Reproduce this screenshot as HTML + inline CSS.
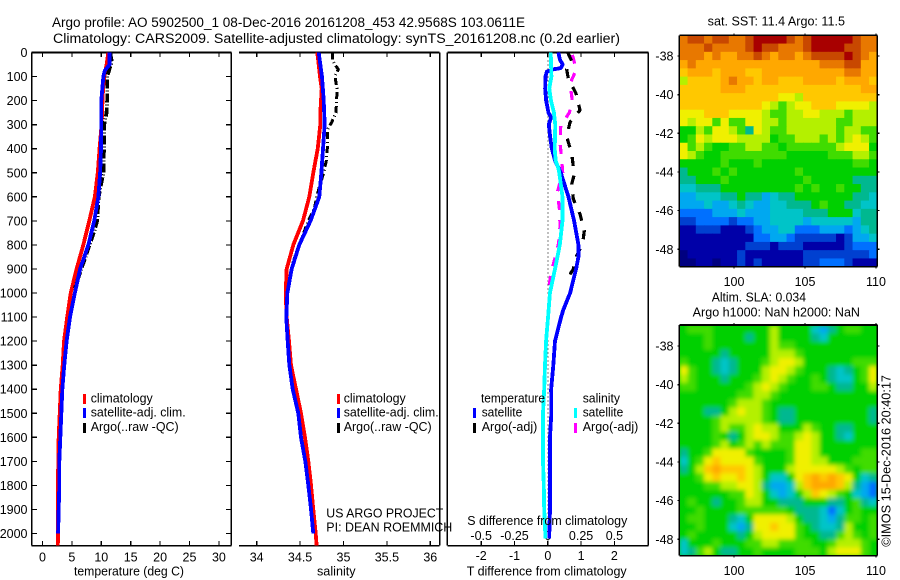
<!DOCTYPE html>
<html lang="en">
<head>
<meta charset="utf-8">
<title>Argo profile</title>
<style>
html,body{margin:0;padding:0;background:#fff;}
svg{display:block;}
text{font-family:"Liberation Sans",sans-serif;font-size:12.5px;fill:#000;}
.title{font-size:13.5px;}
</style>
</head>
<body>
<svg id="figure" xmlns="http://www.w3.org/2000/svg" width="900" height="580" viewBox="0 0 900 580">
  <defs>
    <clipPath id="clip-sst"><rect x="679.3" y="35.3" width="198" height="231.4"/></clipPath>
    <clipPath id="clip-sla"><rect x="679.3" y="325" width="198" height="230.7"/></clipPath>
    <filter id="sla-smooth" x="-5%" y="-5%" width="110%" height="110%"><feGaussianBlur stdDeviation="2.2"/></filter>
  </defs>

  <text class="title" x="52" y="27" textLength="473" lengthAdjust="spacingAndGlyphs">Argo profile: AO 5902500_1 08-Dec-2016 20161208_453 42.9568S 103.0611E</text>
  <text class="title" x="53" y="43" textLength="567" lengthAdjust="spacingAndGlyphs">Climatology: CARS2009. Satellite-adjusted climatology: synTS_20161208.nc (0.2d earlier)</text>

  <g id="panel-temp"></g>
  <g id="panel-sal"></g>
  <g id="panel-diff"></g>
  <g id="map-sst"></g>
  <g id="map-sla"></g>

  <text x="74" y="575.5" textLength="110" lengthAdjust="spacingAndGlyphs">temperature (deg C)</text>
  <text x="317" y="575.5" textLength="38.6" lengthAdjust="spacingAndGlyphs">salinity</text>
  <text x="466.7" y="575.5" textLength="160" lengthAdjust="spacingAndGlyphs">T difference from climatology</text>
  <text x="467.3" y="525" textLength="160" lengthAdjust="spacingAndGlyphs">S difference from climatology</text>

  <g>
    <rect x="83" y="394" width="3" height="10" fill="#ff0000"/>
    <text x="90.7" y="402.7" textLength="62" lengthAdjust="spacingAndGlyphs">climatology</text>
    <rect x="83" y="408" width="3" height="10" fill="#0000ff"/>
    <text x="90.7" y="416.7" textLength="95" lengthAdjust="spacingAndGlyphs">satellite-adj. clim.</text>
    <rect x="83" y="423" width="3" height="10" fill="#000"/>
    <text x="90.7" y="431" textLength="88" lengthAdjust="spacingAndGlyphs">Argo(..raw -QC)</text>
  </g>
  <g>
    <rect x="337" y="394" width="3" height="10" fill="#ff0000"/>
    <text x="343.7" y="402.7" textLength="62" lengthAdjust="spacingAndGlyphs">climatology</text>
    <rect x="337" y="408" width="3" height="10" fill="#0000ff"/>
    <text x="343.7" y="416.7" textLength="95" lengthAdjust="spacingAndGlyphs">satellite-adj. clim.</text>
    <rect x="337" y="423" width="3" height="10" fill="#000"/>
    <text x="343.7" y="431" textLength="88" lengthAdjust="spacingAndGlyphs">Argo(..raw -QC)</text>
  </g>
  <g>
    <text x="481" y="402.7" textLength="64" lengthAdjust="spacingAndGlyphs">temperature</text>
    <rect x="473" y="408" width="3" height="10" fill="#0000ff"/>
    <text x="481.7" y="416.7" textLength="40.6" lengthAdjust="spacingAndGlyphs">satellite</text>
    <rect x="473" y="423" width="3" height="10" fill="#000"/>
    <text x="481.7" y="431" textLength="55.6" lengthAdjust="spacingAndGlyphs">Argo(-adj)</text>
    <text x="582.7" y="402.7" textLength="37.3" lengthAdjust="spacingAndGlyphs">salinity</text>
    <rect x="574" y="408" width="3" height="10" fill="#00ffff"/>
    <text x="582.7" y="416.7" textLength="40.6" lengthAdjust="spacingAndGlyphs">satellite</text>
    <rect x="574" y="423" width="3" height="10" fill="#ff00ff"/>
    <text x="582.7" y="431" textLength="55.6" lengthAdjust="spacingAndGlyphs">Argo(-adj)</text>
  </g>

  <text x="326.3" y="517.7" textLength="117" lengthAdjust="spacingAndGlyphs">US ARGO PROJECT</text>
  <text x="326.3" y="531.7" textLength="126" lengthAdjust="spacingAndGlyphs">PI: DEAN ROEMMICH</text>

  <text x="707.7" y="25.3" textLength="137.3" lengthAdjust="spacingAndGlyphs">sat. SST: 11.4 Argo: 11.5</text>
  <text x="711.7" y="301.7" textLength="94.3" lengthAdjust="spacingAndGlyphs">Altim. SLA: 0.034</text>
  <text x="692.7" y="316.3" textLength="167.3" lengthAdjust="spacingAndGlyphs">Argo h1000: NaN h2000: NaN</text>
  <text transform="translate(890.7,546.7) rotate(-90)" textLength="171.7" lengthAdjust="spacingAndGlyphs">©IMOS 15-Dec-2016 20:40:17</text>
</svg>

<script>
// ---------- axis tick data ----------
const depthTicks = [0,100,200,300,400,500,600,700,800,900,1000,1100,1200,1300,1400,1500,1600,1700,1800,1900,2000];
const tempTicks = [0,5,10,15,20,25,30];
const salTicks = [34,34.5,35,35.5,36];
const diffTTicks = [-2,-1,0,1,2];
const diffSTicks = [-0.5,-0.25,0,0.25,0.5];
const lonTicks = [100,105,110];
const latTicks = [-38,-40,-42,-44,-46,-48];

// ---------- temperature profiles ----------
const climTempDepth = [0,50,100,150,200,300,400,500,600,700,800,900,1000,1100,1200,1300,1400,1500,1600,1700,1800,1900,2000,2050];
const climTemp = [11.2,10.9,10.5,10.3,10.2,10.05,9.7,9.4,8.9,7.96,6.94,5.8,4.8,4.2,3.66,3.43,3.1,2.93,2.75,2.7,2.58,2.6,2.65,2.6];
const satTempDepth = [0,50,75,100,200,300,400,500,600,700,800,900,1000,1100,1200,1300,1400,1500,1600,1700,1800,1900,2000];
const satTemp = [11.4,11.4,10.6,10.35,10.0,10.0,9.95,9.8,9.5,8.8,7.8,6.4,5.5,4.68,4.1,3.7,3.37,3.2,3.03,2.86,2.86,2.75,2.65];
const argoTempDepth = [0,40,60,100,200,250,300,400,500,550,600,700,750,800,900,980];
const argoTemp = [11.5,11.8,11.5,11.0,11.0,10.9,10.5,10.45,10.35,9.95,9.55,9.3,8.7,8.0,6.6,5.5];

// ---------- salinity profiles ----------
const climSalDepth = [0,50,100,150,200,250,300,400,500,600,700,800,900,1000,1100,1200,1300,1400,1500,1600,1700,1800,1900,2000,2050];
const climSal = [34.698,34.714,34.729,34.749,34.741,34.733,34.733,34.703,34.652,34.606,34.533,34.422,34.345,34.334,34.345,34.372,34.395,34.453,34.51,34.556,34.595,34.626,34.652,34.68,34.69];
const satSalDepth = [0,100,200,300,400,500,600,700,800,900,1000,1100,1200,1300,1400,1500,1600,1700,1800,1900,2000];
const satSal = [34.714,34.752,34.772,34.783,34.764,34.745,34.721,34.62,34.49,34.403,34.353,34.341,34.357,34.376,34.415,34.479,34.51,34.56,34.595,34.626,34.652];
const argoSalDepth = [0,30,50,70,100,150,200,250,290,320,400,450,500,550,600,650,700,800,880];
const argoSal = [34.871,34.871,34.90,34.94,34.902,34.925,34.921,34.913,34.864,34.818,34.813,34.802,34.772,34.729,34.691,34.664,34.594,34.49,34.41];

// ---------- difference profiles ----------
const satDiffTDepth = [0,30,50,65,70,80,100,150,200,250,270,300,350,400,450,500,600,700,800,850,900,1000,1070,1100,1200,1300,1400,1500,1600,1700,1800,1900,2000,2020];
const satDiffT = [0.316,0.366,0.447,0.386,0.164,-0.03,-0.07,-0.08,-0.05,0.02,0.1,0.03,0.07,0.12,0.22,0.39,0.62,0.79,0.92,0.92,0.85,0.67,0.466,0.4,0.216,0.166,0.1,0.106,0.066,0.066,0.066,0.066,0.045,0.045];
const satDiffSDepth = [0,100,150,200,250,300,400,450,480,500,600,700,800,900,1000,1100,1200,1300,1400,1500,1600,1700,1800,1900,2000,2020];
const satDiffS = [0.022,0.027,0.011,0.024,0.046,0.056,0.052,0.059,0.079,0.086,0.11,0.11,0.09,0.054,0.016,0.002,-0.013,-0.021,-0.027,-0.036,-0.036,-0.036,-0.03,-0.027,-0.019,-0.019];
const argoDiffTDepth = [0,35,70,110,170,240,290,350,420,475,500,548,610,672,740,795,845,900,945];
const argoDiffT = [0.598,0.717,0.567,0.617,0.847,0.967,0.667,0.567,0.717,0.767,0.807,0.717,0.767,0.967,1.097,1.047,0.867,0.767,0.567];
const argoDiffSDepth = [10,70,130,200,250,305,375,445,500,580,650,720,790,845,905,970];
const argoDiffS = [0.184,0.214,0.167,0.184,0.162,0.097,0.092,0.104,0.112,0.072,0.087,0.092,0.082,0.059,0.029,0.009];

// ---------- map level colours ----------
const levelColors = ['#000080','#0000a8','#0040d0','#0070ff','#00a8f0','#00c4c8','#00b890','#00d000','#40dc00','#b4f000','#f0f000','#ffc800','#ffa800','#e87800','#c84800','#a80000'];

// ---------- SST map levels (rows north to south) ----------
const sstLevels = [
[13,14,14,13,14,14,13,13,14,15,15,15,15,14,13,14,15,15,15,15,15,14,13,13],
[13,13,13,14,13,13,13,13,14,15,14,14,13,13,13,14,15,15,15,15,14,14,13,13],
[13,13,13,12,13,12,12,13,13,14,13,12,13,13,12,13,14,14,14,14,15,14,13,12],
[12,13,12,12,12,12,12,12,12,12,12,12,12,12,12,12,12,13,13,13,14,14,12,12],
[11,12,12,12,11,12,12,12,11,11,12,12,12,12,12,12,12,12,12,12,13,13,12,12],
[9,11,11,11,11,12,13,12,12,11,12,12,11,11,11,12,12,12,12,11,12,12,12,11],
[11,11,11,11,11,12,12,12,11,11,11,11,11,11,11,11,11,11,11,11,11,11,12,12],
[11,11,11,11,11,11,11,11,11,11,11,11,10,10,9,11,11,11,11,11,11,11,11,11],
[11,11,11,11,11,11,11,11,11,11,10,9,8,9,10,10,11,11,11,10,10,10,10,9],
[10,10,10,11,11,11,10,10,10,10,9,8,8,9,9,10,10,9,9,9,8,9,9,9],
[10,9,10,10,8,10,8,8,10,10,9,9,8,9,9,9,9,9,9,8,8,9,9,9],
[7,7,9,8,10,10,9,8,6,10,9,8,8,9,9,9,9,9,9,8,9,9,8,8],
[7,8,10,9,10,10,10,9,9,9,9,7,8,8,9,9,9,8,9,8,9,10,9,8],
[10,8,9,8,7,7,8,8,9,9,8,8,7,8,8,8,8,8,8,9,10,10,10,7],
[10,9,8,7,7,8,8,8,8,8,8,8,8,7,7,7,7,7,8,8,8,9,9,8],
[7,7,7,7,7,8,7,7,7,8,7,7,7,7,7,7,7,7,7,7,7,8,8,7],
[6,7,7,7,8,7,8,7,7,7,7,7,7,7,8,7,7,7,7,7,7,7,7,7],
[6,6,7,7,7,8,7,7,7,7,7,7,7,7,7,8,7,7,7,7,7,6,6,6],
[5,5,6,6,6,7,7,7,7,7,7,7,7,7,8,7,8,7,7,8,7,7,6,6],
[4,4,5,5,5,6,6,7,6,6,4,5,6,6,7,7,7,7,7,7,7,6,6,5],
[4,4,4,5,4,4,5,6,5,4,4,5,5,6,6,6,7,8,7,7,6,6,5,5],
[3,3,3,3,4,4,4,5,4,4,4,5,5,5,5,6,6,6,7,7,7,5,6,6],
[2,2,3,3,3,3,2,3,3,4,4,5,5,5,5,4,5,5,5,5,5,4,6,6],
[1,1,2,2,2,1,1,1,2,3,4,4,5,5,3,3,3,4,4,4,3,4,5,6],
[1,1,1,1,1,1,1,1,1,3,3,4,4,3,2,2,2,2,2,1,2,4,4,5],
[1,1,1,1,1,1,1,1,2,2,2,1,2,2,2,1,1,1,1,1,2,3,3,3],
[0,1,1,1,1,1,1,2,1,1,1,1,1,1,1,2,2,2,2,2,2,2,2,3],
[0,0,1,1,0,1,1,2,1,2,1,1,1,1,1,2,2,3,3,3,2,1,1,1]
];

// ---------- SLA map levels (rows north to south) ----------
const slaLevels = [
[7,8,8,8,7,7,7,7,7,7,7,9,7,7,7,7,5,4,6,7,8,8,7,7],
[7,7,7,8,7,7,7,7,6,7,7,9,7,7,7,7,6,5,7,7,7,7,7,7],
[7,7,7,8,7,7,7,7,7,7,7,9,8,8,7,7,7,7,7,7,7,7,7,7],
[7,7,7,7,7,6,7,7,7,7,7,9,9,9,8,7,7,7,7,7,7,7,7,7],
[8,7,7,7,6,5,6,7,7,7,8,9,10,10,9,7,7,7,7,7,7,8,8,8],
[10,8,7,7,6,5,6,7,7,7,9,10,10,9,8,7,7,7,6,5,6,7,8,10],
[9,8,7,7,7,6,7,7,7,8,9,10,9,8,7,7,8,7,6,5,5,7,8,10],
[8,8,7,7,7,7,7,7,8,9,10,9,8,7,7,7,8,8,7,6,6,7,7,9],
[7,7,7,7,7,7,7,8,8,9,9,8,7,7,7,7,7,7,7,7,7,7,7,7],
[7,7,7,7,7,7,8,9,9,9,8,7,7,7,7,7,7,7,7,7,7,7,7,7],
[7,7,7,6,6,7,9,10,9,9,8,7,6,6,7,7,7,7,7,7,7,7,7,6],
[7,7,7,7,8,9,9,9,9,9,8,7,6,6,7,7,7,7,7,7,7,7,7,6],
[7,7,7,7,8,9,8,8,9,10,9,9,7,7,7,9,8,7,7,6,6,7,7,7],
[7,7,7,7,8,7,6,7,9,10,10,9,8,8,9,10,9,7,7,6,5,7,7,7],
[7,7,7,7,8,9,7,8,9,8,9,8,8,8,10,10,9,7,7,7,7,7,7,7],
[6,7,7,8,10,10,10,10,8,7,7,7,7,8,10,10,9,7,7,7,7,7,8,8],
[5,7,8,10,11,10,10,10,10,8,7,7,7,8,10,10,9,9,7,7,7,8,8,8],
[6,7,9,11,12,11,11,11,10,9,7,7,7,9,10,10,10,10,10,9,8,7,8,8],
[7,7,8,10,11,10,10,11,10,9,7,5,5,7,10,11,12,11,12,11,10,7,5,6],
[7,7,7,8,8,9,9,10,10,9,6,4,4,5,9,11,12,12,12,11,9,6,4,3],
[7,7,7,7,7,7,8,8,10,9,7,5,4,5,7,9,11,10,9,8,7,5,4,3],
[7,8,7,7,6,7,7,8,9,9,7,7,6,6,6,7,7,7,6,6,7,8,6,5],
[7,7,8,7,7,7,7,8,8,8,8,8,8,7,6,6,6,5,3,5,7,8,7,7],
[7,8,8,7,7,7,6,5,7,10,10,10,10,9,7,6,6,5,4,6,8,8,7,8],
[7,7,8,7,7,7,5,4,6,10,10,11,10,10,8,7,6,5,5,6,9,7,7,8],
[7,8,7,7,7,7,7,6,7,9,10,10,10,10,8,7,7,6,6,8,9,8,7,8],
[5,7,7,7,8,7,7,7,8,8,9,9,8,8,8,8,7,7,8,9,9,9,8,7],
[5,6,8,9,7,6,6,7,7,8,7,7,7,7,8,8,8,7,9,10,10,10,8,7]
];

// ---------- drawing ----------
const NS = 'http://www.w3.org/2000/svg';
const depthY = d => 52.5 + d * 0.2405;
const tempX = t => 42.5 + t * 5.88;
const salX = s => 256.7 + (s - 34) * 86.8;
const diffTX = t => 547.8 + t * 33.3;
const diffSX = s => 547.8 + s * 4 * 33.3;

function make(tag, parent, props) {
  const el = document.createElementNS(NS, tag);
  for (const k in props) el.setAttribute(k, props[k]);
  parent.appendChild(el);
  return el;
}

function drawSpine(parent, name, x1, y1, x2, y2) {
  const el = make('line', parent, {x1:x1, y1:y1, x2:x2, y2:y2, stroke:'#000', 'stroke-width':1.6, 'shape-rendering':'crispEdges'});
  
  
}

function drawTick(parent, x1, y1, x2, y2) {
  const el = make('line', parent, {x1:x1, y1:y1, x2:x2, y2:y2, stroke:'#000', 'stroke-width':1.2, 'shape-rendering':'crispEdges'});
  
  
}

function drawLabel(parent, str, x, y, anchor) {
  const el = make('text', parent, {x:x, y:y, 'text-anchor':anchor});
  el.textContent = str;
  
  
}

function drawProfile(parent, name, values, depths, xFn, color, width, dash) {
  const pts = values.map((v, i) => xFn(v).toFixed(2) + ',' + depthY(depths[i]).toFixed(2)).join(' ');
  const el = make('polyline', parent, {points:pts, fill:'none', stroke:color, 'stroke-width':width, 'shape-rendering':'crispEdges', 'stroke-linejoin':'round'});
  if (dash) el.setAttribute('stroke-dasharray', dash);
  
  
}

// temperature panel
const pT = document.getElementById('panel-temp');
drawSpine(pT, 'panel-frame-left', 31.7, 52.5, 31.7, 545.7);
drawSpine(pT, 'panel-frame-right', 231.3, 52.5, 231.3, 545.7);
drawSpine(pT, 'panel-frame-top', 31.7, 52.5, 231.3, 52.5);
drawSpine(pT, 'panel-frame-bottom', 31.7, 545.7, 231.3, 545.7);
depthTicks.forEach(d => {
  drawTick(pT, 31.7, depthY(d), 37, depthY(d));
  drawTick(pT, 226, depthY(d), 231.3, depthY(d));
  drawLabel(pT, String(d), 27.5, depthY(d) + 4.5, 'end');
});
tempTicks.forEach(t => {
  drawTick(pT, tempX(t), 52.5, tempX(t), 57);
  drawTick(pT, tempX(t), 541, tempX(t), 545.7);
  drawLabel(pT, String(t), tempX(t), 561.5, 'middle');
});
drawProfile(pT, 'climatology-temperature-line', climTemp, climTempDepth, tempX, '#ff0000', 3.8);
drawProfile(pT, 'argo-temperature-line', argoTemp, argoTempDepth, tempX, '#000000', 3.8, '9 2 1 2');
drawProfile(pT, 'satellite-temperature-line', satTemp, satTempDepth, tempX, '#0000ff', 3.8);

// salinity panel
const pS = document.getElementById('panel-sal');
drawSpine(pS, 'panel-frame-right', 439.7, 52.5, 439.7, 545.7);
drawSpine(pS, 'panel-frame-top', 239, 52.5, 439.7, 52.5);
drawSpine(pS, 'panel-frame-bottom', 239, 545.7, 439.7, 545.7);
salTicks.forEach(s => {
  drawTick(pS, salX(s), 52.5, salX(s), 57);
  drawTick(pS, salX(s), 541, salX(s), 545.7);
  drawLabel(pS, String(s), salX(s), 561.5, 'middle');
});
drawProfile(pS, 'climatology-salinity-line', climSal, climSalDepth, salX, '#ff0000', 3.8);
drawProfile(pS, 'argo-salinity-line', argoSal, argoSalDepth, salX, '#000000', 3, '7 3 1 3');
drawProfile(pS, 'satellite-salinity-line', satSal, satSalDepth, salX, '#0000ff', 3.8);

// difference panel
const pD = document.getElementById('panel-diff');
drawSpine(pD, 'panel-frame-left', 447.3, 52.5, 447.3, 545.7);
drawSpine(pD, 'panel-frame-right', 648.3, 52.5, 648.3, 545.7);
drawSpine(pD, 'panel-frame-top', 447.3, 52.5, 648.3, 52.5);
drawSpine(pD, 'panel-frame-bottom', 447.3, 545.7, 648.3, 545.7);
const zero = make('line', pD, {x1:diffTX(0), y1:52.5, x2:diffTX(0), y2:545.7, stroke:'#000', 'stroke-width':1, 'stroke-dasharray':'1 3', 'shape-rendering':'crispEdges'});


diffTTicks.forEach(t => {
  drawTick(pD, diffTX(t), 52.5, diffTX(t), 57);
  drawTick(pD, diffTX(t), 541, diffTX(t), 545.7);
  drawLabel(pD, String(t), diffTX(t), 560, 'middle');
});
diffSTicks.forEach(s => {
  drawLabel(pD, String(s), diffSX(s), 540, 'middle');
});
drawProfile(pD, 'argo-salinity-difference-line', argoDiffS, argoDiffSDepth, diffSX, '#ff00ff', 3.2, '9 10');
drawProfile(pD, 'argo-temperature-difference-line', argoDiffT, argoDiffTDepth, diffTX, '#000000', 3.2, '9 10');
drawProfile(pD, 'satellite-temperature-difference-line', satDiffT, satDiffTDepth, diffTX, '#0000ff', 3.8);
drawProfile(pD, 'satellite-salinity-difference-line', satDiffS, satDiffSDepth, diffSX, '#00ffff', 3.8);

// maps
function drawMap(root, levels, top, bottom, lat38Y, lat48Y, clipId, name, blur, baseColor, lonLabelY) {
  const left = 679.3, right = 877.3;
  const lonX = lon => 734 + (lon - 100) * 14.2;
  const latY = lat => lat38Y + (-38 - lat) * (lat48Y - lat38Y) / 10;
  const clip = make('g', root, {'clip-path':'url(#' + clipId + ')'});
  
  
  const bg = make('rect', clip, {x:left, y:top, width:right - left, height:bottom - top, fill:baseColor});
  
  
  const cells = make('g', clip, blur ? {filter:'url(#sla-smooth)'} : {});
  
  
  const rows = levels.length, cols = levels[0].length;
  const cw = (right - left) / cols, ch = (bottom - top) / rows;
  levels.forEach((row, r) => {
    row.forEach((lv, c) => {
      const cell = make('rect', cells, {x:(left + c * cw).toFixed(2), y:(top + r * ch).toFixed(2), width:(cw + 0.6).toFixed(2), height:(ch + 0.6).toFixed(2), fill:levelColors[lv]});
      
      
    });
  });
  drawSpine(root, 'map-frame-left', left, top, left, bottom);
  drawSpine(root, 'map-frame-right', right, top, right, bottom);
  drawSpine(root, 'map-frame-top', left, top, right, top);
  drawSpine(root, 'map-frame-bottom', left, bottom, right, bottom);
  lonTicks.forEach(l => {
    drawTick(root, lonX(l), top - 2, lonX(l), top);
    drawTick(root, lonX(l), bottom, lonX(l), bottom + 2);
    drawLabel(root, String(l), lonX(l), lonLabelY, 'middle');
  });
  latTicks.forEach(l => {
    drawTick(root, left - 2, latY(l), left, latY(l));
    drawTick(root, right, latY(l), right + 2, latY(l));
    drawLabel(root, String(l), 673.5, latY(l) + 4.5, 'end');
  });
}
drawMap(document.getElementById('map-sst'), sstLevels, 35.3, 266.7, 56, 249.3, 'clip-sst', 'sst-map', false, '#00d000', 286);
drawMap(document.getElementById('map-sla'), slaLevels, 325, 555.7, 346, 539.3, 'clip-sla', 'sla-map', true, '#00d000', 575);
</script>
</body>
</html>
